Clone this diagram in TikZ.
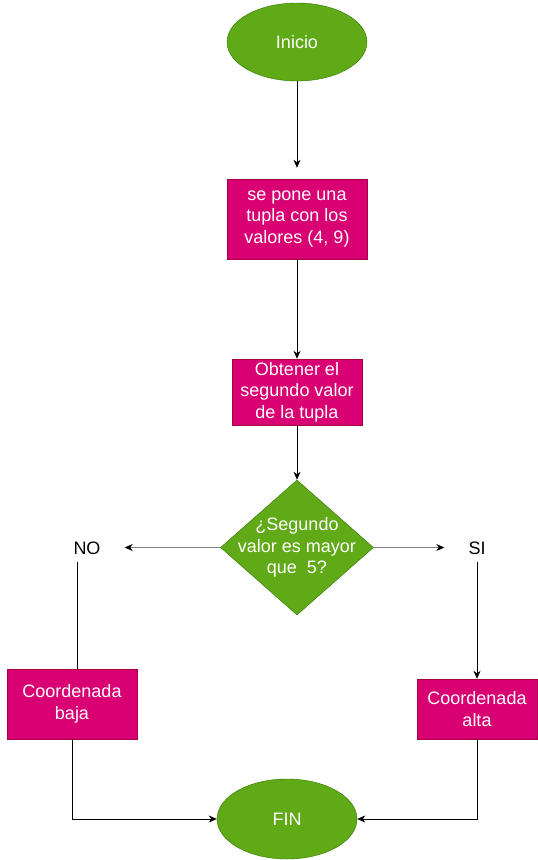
\documentclass[tikz,border=0pt]{standalone}
\usepackage{fontspec}
\setmainfont{Liberation Sans}
\usetikzlibrary{shapes.geometric,arrows.meta}
\definecolor{verde}{HTML}{60A917}
\definecolor{verdeborde}{HTML}{2D7600}
\definecolor{rosa}{HTML}{D80073}
\definecolor{rosaborde}{HTML}{A50040}
\definecolor{gris}{HTML}{808080}
\begin{document}
\begin{tikzpicture}[x=1pt,y=-1pt,
  every node/.style={font=\fontsize{18}{21.6}\selectfont,align=center,inner sep=0pt},
  term/.style={ellipse,draw=verdeborde,fill=verde,text=white,minimum width=140pt},
  proc/.style={rectangle,draw=rosaborde,fill=rosa,text=white},
  decision/.style={diamond,draw=verdeborde,fill=verde,minimum width=153pt,minimum height=135pt},
  flecha/.style={-{Stealth[length=8pt,width=7pt,inset=2.5pt]},line width=0.9pt},
  flechagris/.style={-{Stealth[length=8pt,width=7pt,inset=2.5pt,color=black]},line width=0.9pt,draw=gris},
  linea/.style={line width=0.9pt}]
  \useasboundingbox (0,0) rectangle (538,860);
  \node[term,minimum height=78pt] (inicio) at (297,42) {Inicio};
  \node[proc,minimum width=140pt,minimum height=80pt] (tupla) at (297,219) {se pone una\\tupla con los\\valores (4, 9)};
  \node[proc,minimum width=130pt,minimum height=66pt] (obtener) at (297,392) {Obtener el\\segundo valor\\de la tupla};
  \node[decision] (pregunta) at (297,547.5) {};
  \node[text=white] (preguntatxt) at (pregunta) {¿Segundo\\valor es mayor\\que\ \ 5?};
  \node (no) at (87,548) {NO};
  \node (si) at (477,548) {SI};
  \node[proc,minimum width=130pt,minimum height=70pt] (baja) at (72,704) {Coordenada\\baja};
  \node[proc,minimum width=120pt,minimum height=60pt] (alta) at (477,709) {Coordenada\\alta};
  \node[term,minimum height=80pt] (fin) at (287,819) {FIN};
  \draw[flecha,shorten >=11pt] (inicio) -- (tupla);
  \draw[flecha] (tupla) -- (obtener);
  \draw[flecha] (obtener) -- (pregunta);
  \draw[flechagris,shorten >=24pt] (pregunta.west) -- (pregunta.west -| no.east);
  \draw[flechagris,shorten >=24pt] (pregunta.east) -- (pregunta.east -| si.west);
  \draw[linea,shorten <=7pt] ([xshift=-10pt]no.south) -- ([xshift=-10pt]no.south |- baja.north);
  \draw[flecha,shorten <=7pt] (si.south) -- (alta.north);
  \draw[flecha] (baja.south) |- (fin.west);
  \draw[flecha] (alta.south) |- (fin.east);
\end{tikzpicture}
\end{document}
